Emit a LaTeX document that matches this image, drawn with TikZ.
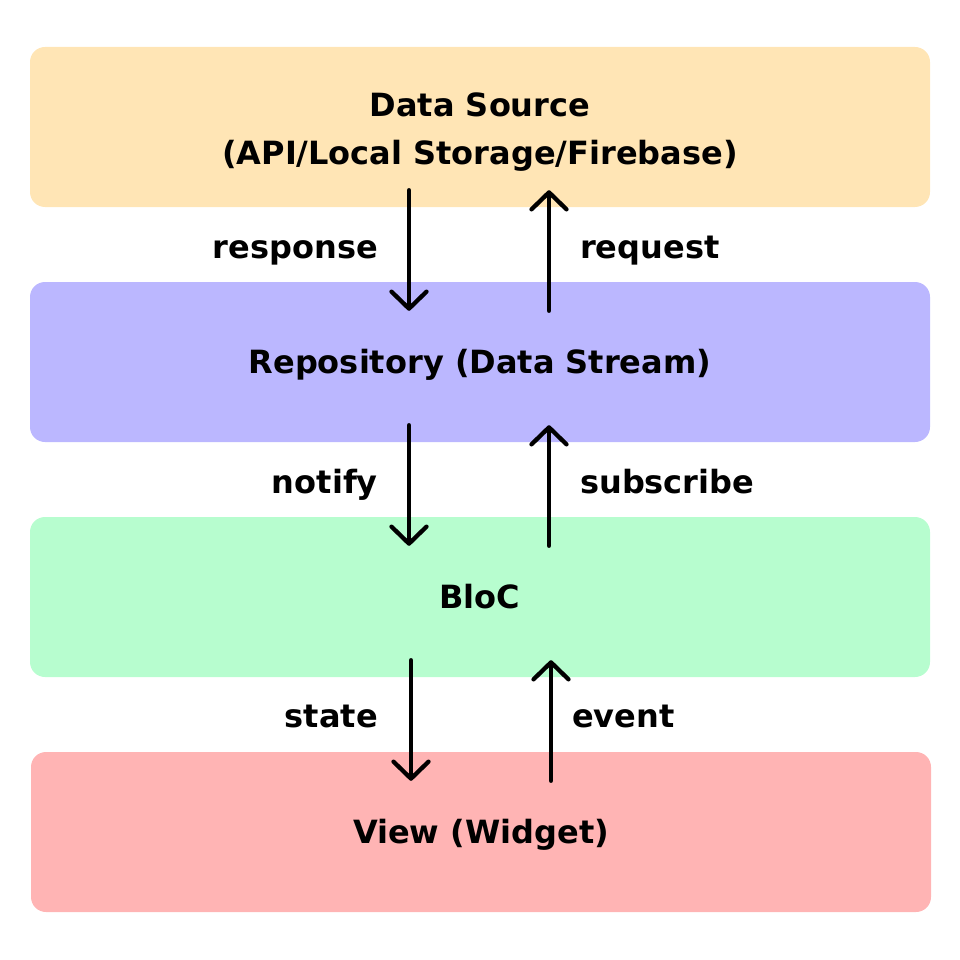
\documentclass[tikz,border=0pt]{standalone}
\usepackage{fontspec}
\setmainfont{DejaVu Sans}
\usetikzlibrary{arrows.meta,calc}
\definecolor{cds}{HTML}{FFE5B5}
\definecolor{crp}{HTML}{BBB7FF}
\definecolor{cbl}{HTML}{B7FDCF}
\definecolor{cvw}{HTML}{FFB4B4}
\tikzset{
  box/.style={rectangle, rounded corners=15pt, draw=none, minimum width=900pt, minimum height=160pt, inner sep=0pt, align=center, text height=22pt, text depth=0pt},
  lbl/.style={inner sep=0pt},
  flow/.style={line width=4.3pt, line cap=round, -{Straight Barb[length=17pt,width=35pt,round]}},
}
\begin{document}
\begin{tikzpicture}[x=1pt,y=-1pt, font=\fontsize{32pt}{48pt}\selectfont\bfseries]
\useasboundingbox (0,0) rectangle (960,960);
\node[box, fill=cds, text height=81pt, text depth=] (ds) at (480,127) {Data Source\\(API/Local Storage/Firebase)};
\node[box, fill=crp] (rp) at (480,362) {Repository (Data Stream)};
\node[box, fill=cbl] (bl) at (480,597) {BloC};
\node[box, fill=cvw] (vw) at (481,832) {View (Widget)};

\draw[flow] ($(ds.south)+(-71,-17)$) -- ($(rp.north)+(-71,29)$);
\draw[flow] ($(rp.north)+(69,29)$) -- ($(ds.south)+(69,-17)$);
\draw[flow] ($(rp.south)+(-71,-17)$) -- ($(bl.north)+(-71,29)$);
\draw[flow] ($(bl.north)+(69,29)$) -- ($(rp.south)+(69,-17)$);
\draw[flow] ($(bl.south)+(-69,-17)$) -- ($(vw.north)+(-70,29)$);
\draw[flow] ($(vw.north)+(70,29)$) -- ($(bl.south)+(71,-17)$);

\node[lbl, anchor=base east] (l1) at (378,258) {response};
\node[lbl, anchor=base west] (l2) at (580,258) {request};
\node[lbl, anchor=base east] (l3) at (378,493) {notify};
\node[lbl, anchor=base west] (l4) at (580,493) {subscribe};
\node[lbl, anchor=base east] (l5) at (378,727) {state};
\node[lbl, anchor=base west] (l6) at (572,727) {event};
\end{tikzpicture}
\end{document}
